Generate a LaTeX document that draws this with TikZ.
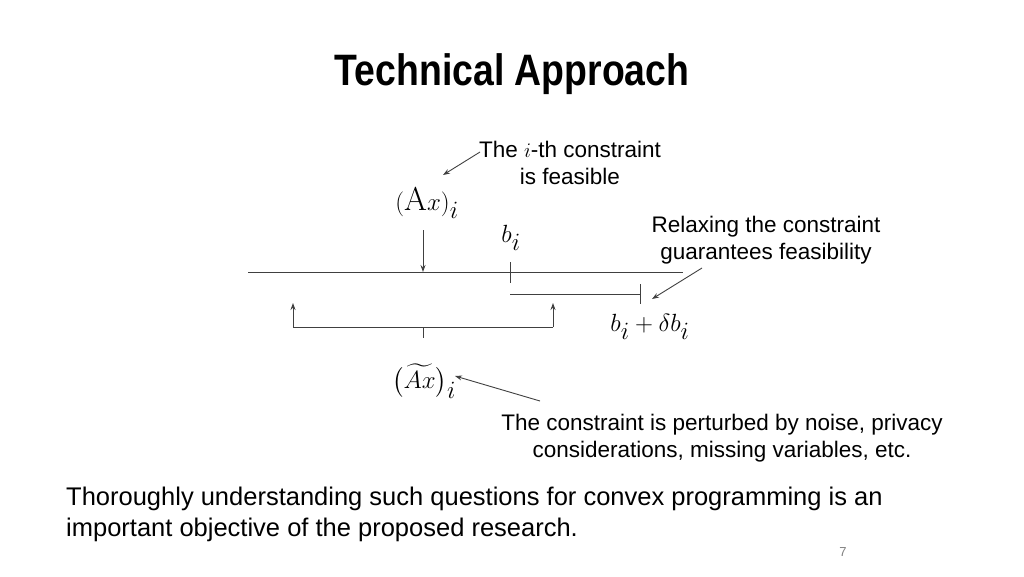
\documentclass[tikz,border=0pt]{standalone}
\usepackage{amsmath}
\usepackage{fontspec}
\setmainfont{Liberation Sans}
\setmathrm{Latin Modern Roman}
\usetikzlibrary{arrows.meta}
\begin{document}
\begin{tikzpicture}[x=1pt,y=-1pt,
  ln/.style={line width=0.9pt,draw=black!75},
  arr/.style={ln,-{Stealth[length=7pt,width=5pt]}},
  lbl/.style={font=\fontsize{22.5}{26}\selectfont,align=center,inner sep=0pt},
  mth/.style={font=\fontsize{33}{38}\selectfont,inner sep=0pt}]
\useasboundingbox (0,0) rectangle (1024,576);
\node[font=\fontsize{44}{50}\bfseries\selectfont,inner sep=0pt,xscale=0.85] (title) at (512,74) {Technical Approach};
\coordinate (L0) at (248,272); \coordinate (L1) at (683,272);
\draw[ln] (L0) -- (L1);
\coordinate (t1a) at (510,262); \coordinate (t1b) at (510,283);
\draw[ln] (t1a) -- (t1b);
\coordinate (d0) at (423,230); \coordinate (d1) at (423,272);
\draw[arr] (d0) -- (d1);
\coordinate (r0) at (510,294); \coordinate (r1) at (640,294);
\draw[ln] (r0) -- (r1);
\coordinate (t2a) at (640,284); \coordinate (t2b) at (640,304);
\draw[ln] (t2a) -- (t2b);
\coordinate (b0) at (293,303); \coordinate (b1) at (293,327);
\coordinate (b2) at (553,327); \coordinate (b3) at (553,303);
\draw[arr] (b1) -- (b0);
\draw[arr] (b2) -- (b3);
\draw[ln] (b1) -- (b2);
\coordinate (c0) at (423,327); \coordinate (c1) at (423,338);
\draw[ln] (c0) -- (c1);
\node[mth] (ax) at (427,203) {$(\mathrm{A}x)_i$};
\node[mth] (bi) at (511,238) {$b_i$};
\node[mth] (bd) at (650,327) {$b_i+\delta b_i$};
\node[mth] (atx) at (424,381) {$\bigl(\widetilde{Ax}\bigr)_i$};
\node[lbl] (t1) at (570,163) {The $i$-th constraint\\[1pt]is feasible};
\node[lbl] (t2) at (766,240) {Relaxing the constraint\\[1pt]guarantees feasibility};
\node[lbl] (t3) at (722,438) {The constraint is perturbed by noise, privacy\\[1pt]considerations, missing variables, etc.};
\coordinate (a1s) at (480,152); \coordinate (a1e) at (443,175);
\draw[arr] (a1s) -- (a1e);
\coordinate (a2s) at (702,268); \coordinate (a2e) at (652,299);
\draw[arr] (a2s) -- (a2e);
\coordinate (a3s) at (540,401); \coordinate (a3e) at (455,376);
\draw[arr] (a3s) -- (a3e);
\node[font=\fontsize{25.5}{31}\selectfont,align=left,anchor=north west,inner sep=0pt] (para) at (66,487) {Thoroughly understanding such questions for convex programming is an\\important objective of the proposed research.};
\node[font=\fontsize{13}{15}\selectfont,text=black!50,inner sep=0pt] (pg) at (843,552) {7};
\end{tikzpicture}
\end{document}
